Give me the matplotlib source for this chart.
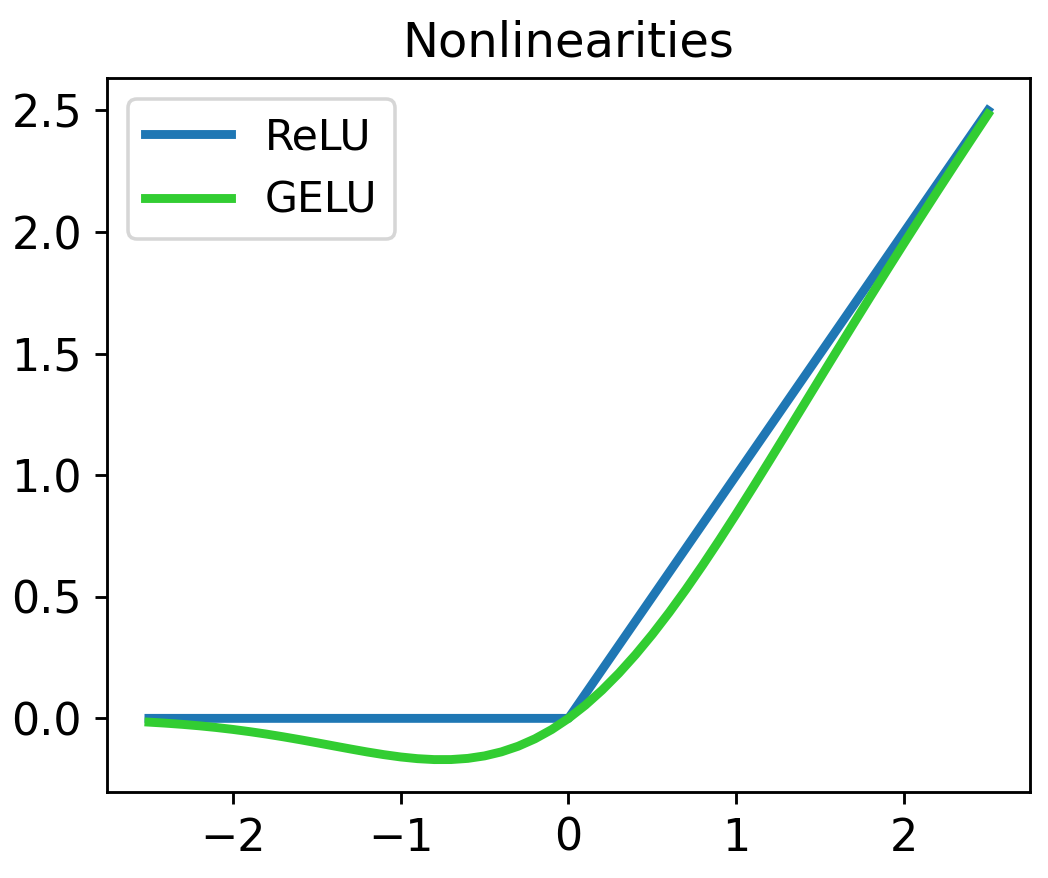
import matplotlib
matplotlib.use('Agg')
import matplotlib.pyplot as plt

# values
relu_x = [-2.5, 0.0, 2.5]
relu_y = [0.0, 0.0, 2.5]

gelu_x = [-2.5, -2.4, -2.3, -2.2, -2.1, -2.0, -1.9, -1.8, -1.7, -1.6, -1.5,
          -1.4, -1.3, -1.2, -1.1, -1.0, -0.9, -0.8, -0.7, -0.6, -0.5, -0.4,
          -0.3, -0.2, -0.1, 0.0, 0.1, 0.2, 0.3, 0.4, 0.5, 0.6, 0.7, 0.8, 0.9,
          1.0, 1.1, 1.2, 1.3, 1.4, 1.5, 1.6, 1.7, 1.8, 1.9, 2.0, 2.1, 2.2,
          2.3, 2.4, 2.5]
gelu_y = [-0.0155, -0.0197, -0.0247, -0.0306, -0.0375, -0.0455, -0.0546,
          -0.0647, -0.0758, -0.0877, -0.1002, -0.1131, -0.1258, -0.1381,
          -0.1492, -0.1587, -0.1657, -0.1695, -0.1694, -0.1646, -0.1543,
          -0.1378, -0.1146, -0.0841, -0.0460, 0.0, 0.0540, 0.1159, 0.1854,
          0.2622, 0.3457, 0.4354, 0.5306, 0.6305, 0.7343, 0.8413, 0.9508,
          1.0619, 1.1742, 1.2869, 1.3998, 1.5123, 1.6242, 1.7353, 1.8454,
          1.9545, 2.0625, 2.1694, 2.2753, 2.3803, 2.4845]

DPI = 256
fig = plt.figure(figsize=(1048 / DPI, 878 / DPI), dpi=DPI)
ax = fig.add_axes([0.1021, 0.0979, 0.8807, 0.8133])

ax.plot(relu_x, relu_y, color='#1f77b4', lw=2.5, label='ReLU')
ax.plot(gelu_x, gelu_y, color='#32cd32', lw=2.5, label='GELU')

ax.set_title('Nonlinearities', fontsize=13.5)
ax.set_xticks([-2, -1, 0, 1, 2])
ax.tick_params(labelsize=12.5)
ax.legend(loc='upper left', fontsize=12)

fig.savefig('out.png', dpi=DPI)
